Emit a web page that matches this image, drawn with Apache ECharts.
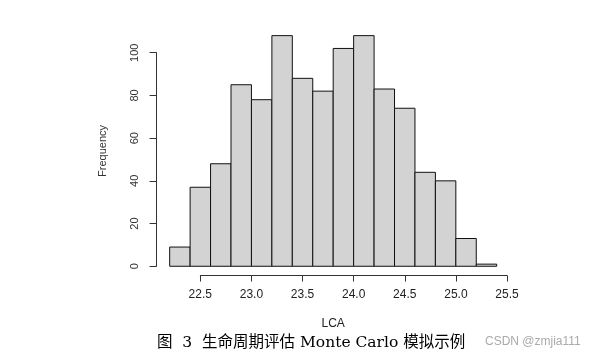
<!DOCTYPE html>
<html><head><meta charset="utf-8">
<script src="https://cdn.jsdelivr.net/npm/echarts@6/dist/echarts.min.js"></script>
<style>html,body{margin:0;padding:0;background:#fff}#c{width:606px;height:358px}</style>
</head><body><div id="c"></div>
<script>
const binEdges = [22.2,22.4,22.6,22.8,23.0,23.2,23.4,23.6,23.8,24.0,24.2,24.4,24.6,24.8,25.0,25.2,25.4];
const counts = [9,37,48,85,78,108,88,82,102,108,83,74,44,40,13,1];
const xTickMin = 22.5, xTickMax = 25.5, xTickStep = 0.5;
const yTickMin = 0, yTickMax = 100, yTickStep = 20;
const xLabel = 'LCA';
const yLabel = 'Frequency';
const caption = '图  3  生命周期评估 Monte Carlo 模拟示例';
const watermark = 'CSDN @zmjia111';

const bins = counts.map((c, i) => [binEdges[i], binEdges[i + 1], c]);
const xPad = (binEdges[binEdges.length - 1] - binEdges[0]) * 0.04;
const yMaxData = Math.max(...counts);
const yPad = yMaxData * 0.04;

const chart = echarts.init(document.getElementById('c'), null, {renderer: 'canvas'});
const font = 'Liberation Sans, Arial, sans-serif';
chart.setOption({
  animation: false,
  grid: [
    {left: 156.6, right: 96.2, top: 26.4, bottom: 82.5},
    {left: 200.3, right: 99, top: 26.4, bottom: 82.5},
    {left: 156.6, right: 96.2, top: 52.7, bottom: 91.7}
  ],
  xAxis: [
    {gridIndex: 0, type: 'value', min: binEdges[0] - xPad, max: binEdges[binEdges.length - 1] + xPad,
     axisLine: {show: false}, axisTick: {show: false}, axisLabel: {show: false}, splitLine: {show: false},
     name: xLabel, nameLocation: 'middle', nameGap: 42,
     nameTextStyle: {fontFamily: font, fontSize: 12, color: '#222'}},
    {gridIndex: 1, type: 'value', min: xTickMin, max: xTickMax, interval: xTickStep,
     axisLine: {show: true, lineStyle: {color: '#333', width: 1}},
     axisTick: {show: true, length: 6, lineStyle: {color: '#333'}},
     axisLabel: {fontFamily: font, fontSize: 12, color: '#222', margin: 13,
       formatter: v => v.toFixed(1)},
     splitLine: {show: false}},
    {gridIndex: 2, type: 'value', show: false, min: 0, max: 1}
  ],
  yAxis: [
    {gridIndex: 0, type: 'value', min: -yPad, max: yMaxData + yPad,
     axisLine: {show: false}, axisTick: {show: false}, axisLabel: {show: false}, splitLine: {show: false},
     name: yLabel, nameLocation: 'middle', nameGap: 48, nameRotate: 90,
     nameTextStyle: {fontFamily: font, fontSize: 11, color: '#333'}},
    {gridIndex: 1, type: 'value', show: false, min: 0, max: 1},
    {gridIndex: 2, type: 'value', min: yTickMin, max: yTickMax, interval: yTickStep,
     axisLine: {show: true, lineStyle: {color: '#333', width: 1}},
     axisTick: {show: true, length: 7, lineStyle: {color: '#333'}},
     axisLabel: {fontFamily: font, fontSize: 11, color: '#333', rotate: 90, margin: 16},
     splitLine: {show: false}}
  ],
  series: [{
    type: 'custom',
    xAxisIndex: 0, yAxisIndex: 0,
    data: bins,
    encode: {x: [0, 1], y: 2},
    renderItem: function (params, api) {
      const p0 = api.coord([api.value(0), 0]);
      const p1 = api.coord([api.value(1), api.value(2)]);
      return {
        type: 'rect',
        shape: {x: p0[0], y: p1[1], width: p1[0] - p0[0], height: p0[1] - p1[1]},
        style: {fill: '#d3d3d3', stroke: '#111', lineWidth: 1}
      };
    }
  }],
  graphic: [
    {type: 'text', left: 157, top: 335,
     style: {text: caption, font: '15.5px "DejaVu Serif", "Noto Sans CJK SC", serif', fill: '#000'}},
    {type: 'text', left: 485, top: 336,
     style: {text: watermark, font: '12px "Liberation Sans", Arial, sans-serif', fill: '#aaa'}}
  ]
});
</script></body></html>
